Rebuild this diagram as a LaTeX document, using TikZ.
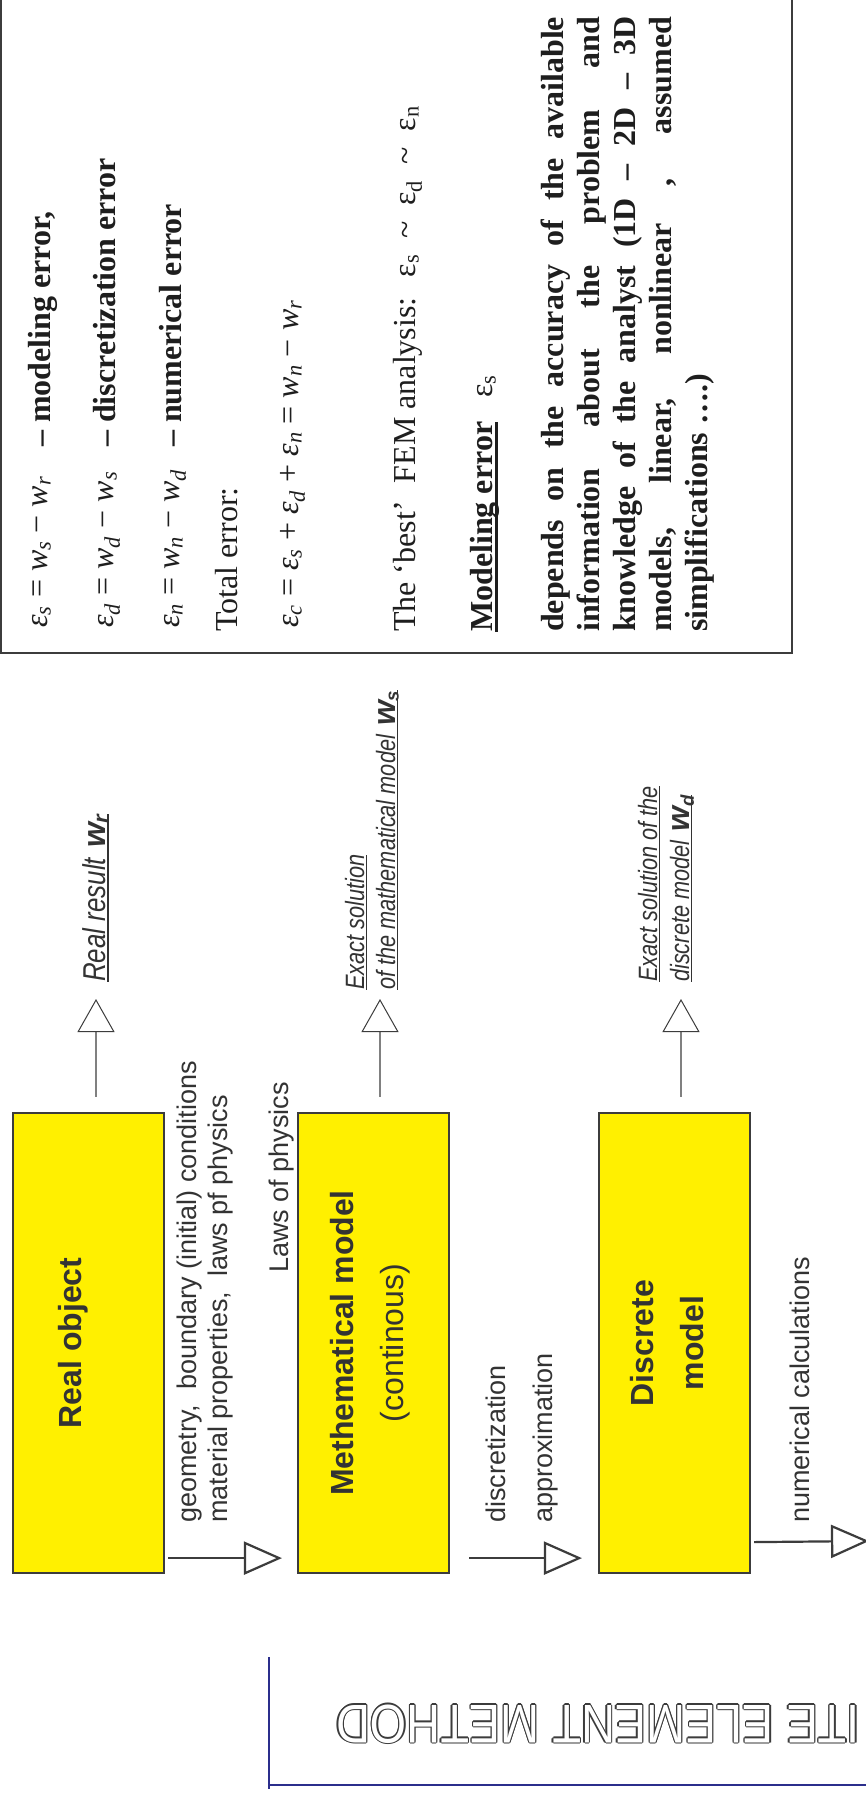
\documentclass[tikz,border=0pt]{standalone}
\usepackage{fontspec}
\setmainfont{Liberation Serif}
\newfontfamily\arial{Liberation Sans}
\newfontfamily\narrow{Liberation Sans}[FakeStretch=0.82]
\newfontfamily\titlefont{Liberation Sans}[FakeStretch=0.86]
\usetikzlibrary{arrows.meta,calc}

\definecolor{boxyellow}{RGB}{255,240,0}
\definecolor{boxline}{RGB}{60,60,60}
\definecolor{ink}{RGB}{51,51,51}
\definecolor{serifink}{RGB}{30,30,30}
\definecolor{shaft}{RGB}{128,128,128}
\definecolor{rulecol}{RGB}{43,46,140}

% underline: #1 thickness, #2 depth below baseline, #3 text
\newcommand{\uln}[3]{\setbox0=\hbox{#3}\rlap{\rule[-#2]{\wd0}{#1}}\box0}
% italic symbol with italic subscript
\newcommand{\ei}[1]{\textit{ε}\textsubscript{\textit{#1}}}
\newcommand{\wi}[1]{\textit{w}\textsubscript{\textit{#1}}}
% upright epsilon with subscript
\newcommand{\eu}[1]{ε\textsubscript{#1}}
% bold result symbol
\newcommand{\bw}[1]{{\arial\bfseries\itshape\fontsize{32}{36}\selectfont w}\textsubscript{\arial\bfseries\itshape #1}}

\tikzset{
  ser/.style={rotate=90, anchor=base west, inner sep=0pt, text=serifink,
    font=\fontsize{32}{36}\selectfont},
  serb/.style={ser, font=\fontsize{32}{36}\selectfont\bfseries},
  lbl/.style={rotate=90, anchor=base west, inner sep=0pt, text=ink,
    font=\arial\fontsize{27}{30}\selectfont},
  res/.style={rotate=90, anchor=base west, inner sep=0pt, text=ink,
    font=\narrow\itshape\fontsize{26.5}{30}\selectfont},
  blk/.style={draw=boxline, line width=2.2pt, fill=boxyellow,
    minimum width=151pt, minimum height=460pt, inner sep=0pt},
  blktext/.style={rotate=90, anchor=base, inner sep=0pt, text=ink,
    font=\arial\bfseries\fontsize{32}{36}\selectfont},
  blksub/.style={blktext, font=\arial\fontsize{32}{36}\selectfont},
  flow/.style={draw=boxline, line width=2.2pt,
    -{Triangle[open,length=38pt,width=33pt]}},
  upflow/.style={draw=shaft, line width=1.3pt,
    -{Triangle[open,length=33pt,width=37pt,color=boxline,line width=1pt]}},
  ttl/.style={rotate=180, anchor=base west, inner sep=0pt,
    font=\titlefont\fontsize{54.5}{60}\selectfont},
}

\begin{document}
\begin{tikzpicture}[x=1pt,y=-1pt]
\useasboundingbox (0,0) rectangle (866,1798);
\fill[white] (0,0) rectangle (866,1798);

% ---- error summary frame ----
\draw[boxline, line width=2pt] (1,-10) rectangle (792,653);

\node[ser] (e1) at (47,628) {\ei{s} = \wi{s} − \wi{r}};
\node[serb] (e1t) at (50,447) {– modeling error,};
\node[ser] (e2) at (113,628) {\ei{d} = \wi{d} − \wi{s}};
\node[serb] (e2t) at (115,447) {– discretization error};
\node[ser] (e3) at (179,628) {\ei{n} = \wi{n} − \wi{d}};
\node[serb] (e3t) at (181,447) {– numerical error};
\node[ser] (tot) at (237,632) {Total error:};
\node[ser] (e4) at (298,628) {\ei{c} = \ei{s} + \ei{d} + \ei{n} = \wi{n} − \wi{r}};
\node[ser] (best) at (415,632) {The ‘best’\hspace{18pt}FEM analysis:\hspace{20pt}\eu{s}\hspace{16pt}\textasciitilde\hspace{16pt}\eu{d}\hspace{16pt}\textasciitilde\hspace{16pt}\eu{n}};
\node[serb] (mod) at (492,632) {\uln{3.5pt}{6pt}{Modeling error}\hspace{24pt}{\mdseries\eu{s}}};

\node[serb] (p1) at (563,632) {\makebox[615pt][s]{depends on the accuracy of the available}};
\node[serb] (p2) at (599,632) {\makebox[615pt][s]{information about the problem and}};
\node[serb] (p3) at (635,632) {\makebox[615pt][s]{knowledge of the analyst (1D – 2D – 3D}};
\node[serb] (p4) at (671,632) {\makebox[615pt][s]{models, linear, nonlinear , assumed}};
\node[serb] (p5) at (707,632) {simplifications ….)};

% ---- modelling chain ----
\node[blk] (real) at (88.5,1343) {};
\node[blk] (math) at (373.5,1343) {};
\node[blk] (disc) at (674.5,1343) {};

\node[blktext] (realt) at (81,1343) {Real object};
\node[blktext] (matht) at (353,1343) {Methematical model};
\node[blksub] (maths) at (403,1343) {(continous)};
\node[blktext] (disct) at (653,1343) {Discrete};
\node[blktext] (discs) at (703,1343) {model};

% labels along the chain
\node[lbl] (g1) at (196,1523) {geometry,\ \ boundary (initial) conditions};
\node[lbl] (g2) at (227,1523) {material properties,\ \ laws pf physics};
\node[lbl] (laws) at (288,1273) {Laws of physics};
\node[lbl] (dz) at (505,1523) {discretization};
\node[lbl] (ap) at (552,1523) {approximation};
\node[lbl] (nc) at (809,1523) {numerical calculations};

% results
\node[res, font=\narrow\itshape\fontsize{31.6}{34}\selectfont] (rr) at (105,982)
  {\uln{1.6pt}{3.5pt}{Real result\hspace{10pt}\bw{r}}};
\node[res] (xs1) at (364,990) {\uln{1.5pt}{3pt}{Exact solution}};
\node[res] (xs2) at (395,990) {\uln{1.5pt}{3pt}{of the mathematical model\hspace{9pt}\bw{s}}};
\node[res] (xd1) at (657,982) {\uln{1.5pt}{3pt}{Exact solution of the}};
\node[res] (xd2) at (689,982) {\uln{1.5pt}{3pt}{discrete model\hspace{9pt}\bw{d}}};

% flow arrows
\coordinate (outtip) at (869,1541);
\draw[flow] ([xshift=3pt,yshift=16pt]real.south east) -- ([xshift=-15pt,yshift=16pt]math.south west);
\draw[flow] ([xshift=19pt,yshift=16pt]math.south east) -- ([xshift=-16pt,yshift=16pt]disc.south west);
\draw[flow] ([xshift=3pt,yshift=32pt]disc.south east) -- (outtip);

% result arrows
\coordinate (realtip) at (96,999);
\coordinate (mathtip) at (380,999);
\coordinate (disctip) at (681,999);
\draw[upflow] ([xshift=7.5pt,yshift=15pt]real.north) -- (realtip);
\draw[upflow] ([xshift=6.5pt,yshift=15pt]math.north) -- (mathtip);
\draw[upflow] ([xshift=6.5pt,yshift=15pt]disc.north) -- (disctip);

% ---- title bar ----
\draw[rulecol, line width=2pt] (269,1657) -- (269,1789);
\draw[rulecol, line width=2pt] (268,1785) -- (866,1785);
\foreach \dx/\dy [count=\i] in {1.3/0,-1.3/0,0/1.3,0/-1.3,0.9/0.9,-0.9/0.9,0.9/-0.9,-0.9/-0.9}
  \node[ttl, text=boxline] (tc\i) at (860+\dx,1705+\dy) {ITE ELEMENT METHOD};
\node[ttl, text=white] (title) at (860,1705) {ITE ELEMENT METHOD};
\end{tikzpicture}
\end{document}
